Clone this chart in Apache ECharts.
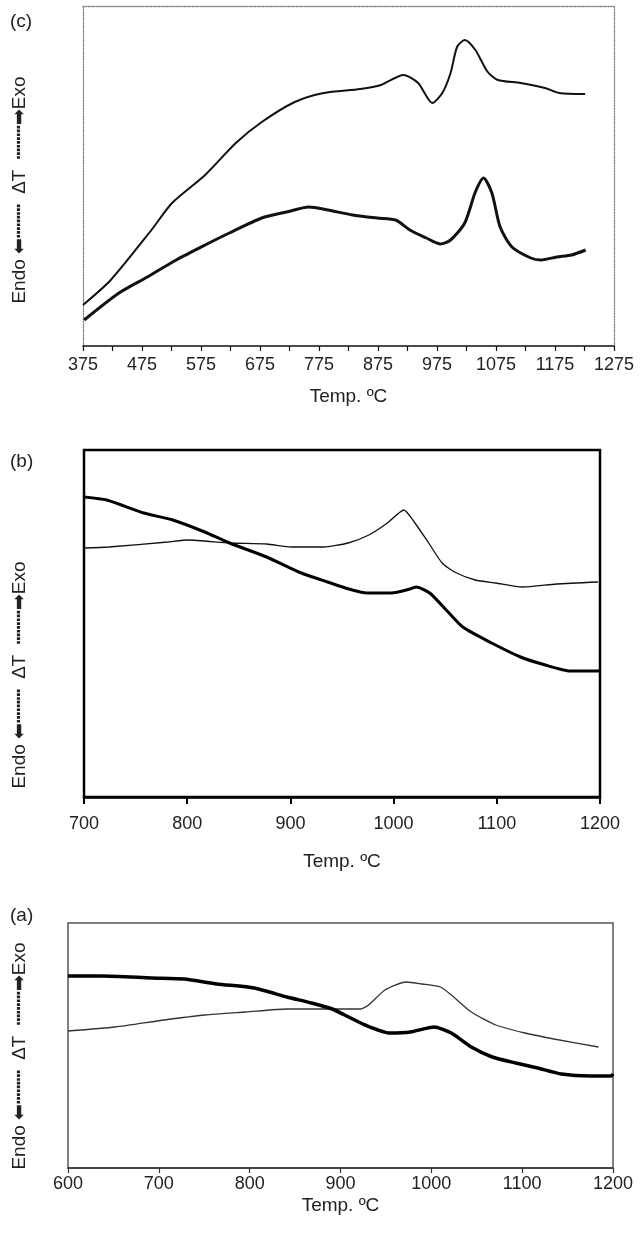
<!DOCTYPE html>
<html><head><meta charset="utf-8">
<script src="https://cdn.jsdelivr.net/npm/echarts@6/dist/echarts.min.js"></script>
<style>html,body{margin:0;padding:0;background:#fff}#c{width:640px;height:1234px}</style>
</head><body><div id="c"></div><script>
// Panel (c)
const cTopT = [375,422,491,526,582,634,678,734,783,845,880,918,943,967,984,998,1009,1022,1040,1061,1078,1117,1158,1182,1226];
const cTopV = [41,66,116,143,171,203,224,244,253,257,261,271,263,243,253,273,299,306,296,274,266,263,258,253,252];
const cBotT = [377,436,484,533,582,623,678,720,758,790,832,874,905,929,957,981,998,1022,1040,1054,1068,1082,1102,1134,1151,1178,1203,1227];
const cBotV = [26,53,69,86,101,113,128,134,139,136,131,128,126,116,108,102,106,123,154,168,153,119,99,88,86,89,91,96];
const cTickLabels = [375,475,575,675,775,875,975,1075,1175,1275];
const cTicks = [375,425,475,525,575,625,675,725,775,825,875,925,975,1025,1075,1125,1175,1225,1275];
// Panel (b)
const bThinT = [700,724,781,801,841,877,901,932,956,976,994,1010,1020,1034,1047,1059,1079,1099,1125,1158,1198];
const bThinV = [249,250,255,257,254,253,250,250,254,262,274,287,275,254,234,225,217,214,210,213,215];
const bThickT = [700,722,758,786,817,841,877,908,936,960,974,998,1016,1022,1035,1051,1067,1095,1123,1147,1171,1200];
const bThickV = [300,297,284,277,265,254,240,225,215,207,204,204,208,210,204,187,170,154,140,132,126,126];
// Panel (a)
const aThinT = [600,652,706,751,796,841,886,922,931,949,972,990,1010,1022,1044,1071,1103,1135,1184];
const aThinV = [137,141,148,153,156,159,159,159,163,178,186,184,181,173,156,143,135,129,121];
const aThickT = [600,638,692,728,764,805,841,868,891,909,927,954,977,1003,1022,1044,1067,1093,1117,1143,1175,1198,1200];
const aThickV = [192,192,190,189,184,180,171,165,159,151,143,135,136,141,135,121,111,105,100,94,92,92,94];

const panelLetters = ['(c)','(b)','(a)'];
const xName = 'Temp. ºC';
const yName = 'Endo ⬅┅┅┅  ∆T  ┅┅┅➡Exo';

function zip(t, v){ return t.map((x,i)=>[x, v[i]]); }
const FONT = "'Liberation Sans', Arial, 'DejaVu Sans', sans-serif";
const chart = echarts.init(document.getElementById('c'), null, {renderer:'canvas'});
const hid = {show:false};
const fmt = v => String(v);
const lblStyle = {color:'#222', fontSize:18, fontFamily:FONT, formatter:fmt};
const nameStyle = {color:'#222', fontSize:19, fontFamily:FONT};
const yLbl = (y) => ({type:'text', x:20, y:y, rotation:Math.PI/2,
  style:{text:yName, fontSize:19, fontFamily:FONT, fill:'#222', align:'center', verticalAlign:'middle'}});

const option = {
  animation:false,
  backgroundColor:'#fff',
  grid:[
    {left:83, top:6, width:531, height:340, show:false},
    {left:84, top:450, width:516, height:347, show:true, borderColor:'#000', borderWidth:2.5},
    {left:68, top:923, width:545, height:245, show:true, borderColor:'#555', borderWidth:1.5}
  ],
  xAxis:[
    {gridIndex:0, type:'value', min:375, max:1275, position:'bottom',
     axisLine:{show:true, onZero:false, lineStyle:{color:'#111', width:1.5}},
     axisTick:{show:true, customValues:cTicks, length:5, lineStyle:{color:'#111', width:1.2}},
     axisLabel:{customValues:cTickLabels, margin:10, ...lblStyle},
     splitLine:hid, name:xName, nameLocation:'middle', nameGap:41, nameTextStyle:nameStyle},
    {gridIndex:0, type:'value', min:375, max:1275, position:'top',
     axisLine:{show:true, onZero:false, lineStyle:{color:'#888', width:1.3, type:'dotted'}},
     axisTick:hid, axisLabel:hid, splitLine:hid},
    {gridIndex:1, type:'value', min:700, max:1200, interval:100, position:'bottom',
     axisLine:{show:true, onZero:false, lineStyle:{color:'#000', width:2.5}},
     axisTick:{show:true, length:7, lineStyle:{color:'#000', width:2}},
     axisLabel:{margin:18, ...lblStyle},
     splitLine:hid, name:xName, nameLocation:'middle', nameGap:55, nameTextStyle:nameStyle},
    {gridIndex:2, type:'value', min:600, max:1200, interval:100, position:'bottom',
     axisLine:{show:true, onZero:false, lineStyle:{color:'#333', width:1.5}},
     axisTick:{show:true, length:5, lineStyle:{color:'#333', width:1.2}},
     axisLabel:{margin:7, ...lblStyle},
     splitLine:hid, name:xName, nameLocation:'middle', nameGap:28, nameTextStyle:nameStyle}
  ],
  yAxis:[
    {gridIndex:0, type:'value', min:0, max:340, position:'left',
     axisLine:{show:true, onZero:false, lineStyle:{color:'#888', width:1.3, type:'dotted'}},
     axisTick:hid, axisLabel:hid, splitLine:hid},
    {gridIndex:0, type:'value', min:0, max:340, position:'right',
     axisLine:{show:true, onZero:false, lineStyle:{color:'#888', width:1.3, type:'dotted'}},
     axisTick:hid, axisLabel:hid, splitLine:hid},
    {gridIndex:1, type:'value', min:0, max:347, axisLine:hid, axisTick:hid, axisLabel:hid, splitLine:hid},
    {gridIndex:2, type:'value', min:0, max:245, axisLine:hid, axisTick:hid, axisLabel:hid, splitLine:hid}
  ],
  series:[
    {type:'line', xAxisIndex:0, yAxisIndex:0, data:zip(cTopT,cTopV), symbol:'none', smooth:0.25, lineStyle:{color:'#111', width:2}},
    {type:'line', xAxisIndex:0, yAxisIndex:0, data:zip(cBotT,cBotV), symbol:'none', smooth:0.25, lineStyle:{color:'#111', width:3}},
    {type:'line', xAxisIndex:2, yAxisIndex:2, data:zip(bThinT,bThinV), symbol:'none', smooth:0.2, lineStyle:{color:'#111', width:1.3}},
    {type:'line', xAxisIndex:2, yAxisIndex:2, data:zip(bThickT,bThickV), symbol:'none', smooth:0.2, lineStyle:{color:'#000', width:3}},
    {type:'line', xAxisIndex:3, yAxisIndex:3, data:zip(aThinT,aThinV), symbol:'none', smooth:0.2, lineStyle:{color:'#333', width:1.3}},
    {type:'line', xAxisIndex:3, yAxisIndex:3, data:zip(aThickT,aThickV), symbol:'none', smooth:0.2, lineStyle:{color:'#000', width:3.5}}
  ],
  graphic:[
    {type:'text', left:10, top:12, style:{text:panelLetters[0], fontSize:19, fontFamily:FONT, fill:'#222'}},
    {type:'text', left:10, top:452, style:{text:panelLetters[1], fontSize:19, fontFamily:FONT, fill:'#222'}},
    {type:'text', left:10, top:906, style:{text:panelLetters[2], fontSize:19, fontFamily:FONT, fill:'#222'}},
    yLbl(190), yLbl(675), yLbl(1056)
  ]
};
chart.setOption(option);
</script></body></html>
